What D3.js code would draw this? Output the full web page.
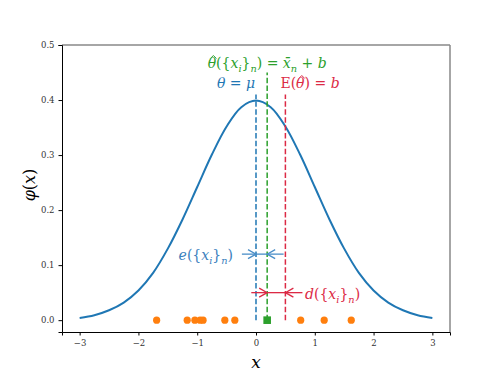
<!DOCTYPE html>
<html>
<head>
<meta charset="utf-8">
<script src="https://cdn.jsdelivr.net/npm/d3@7"></script>
<style>
  body { margin: 0; background: #fff; }
  svg text { font-family: "DejaVu Serif", serif !important; }
</style>
</head>
<body>
<script>
// density curve at steps of 0.25
const curveX = [-3, -2.75, -2.5, -2.25, -2, -1.75, -1.5, -1.25, -1, -0.75, -0.5, -0.25, 0,
  0.25, 0.5, 0.75, 1, 1.25, 1.5, 1.75, 2, 2.25, 2.5, 2.75, 3];
const curveY = [0.004, 0.009, 0.018, 0.032, 0.054, 0.086, 0.130, 0.183, 0.242, 0.301, 0.352, 0.387, 0.399,
  0.387, 0.352, 0.301, 0.242, 0.183, 0.130, 0.086, 0.054, 0.032, 0.018, 0.009, 0.004];

// sample points
const samples = [-1.69, -1.17, -1.04, -0.95, -0.90, -0.53, -0.36, 0.76, 1.16, 1.62];
const estimate = 0.19;   // x̄_n + b
const mu = 0;
const expect = 0.5;      // E(θ̂) = b

const eCol = "#4a8ec8", dCol = "#dc2a45";

const vlines = [
  { x: mu, top: 0.41, color: "#1f77b4" },
  { x: estimate, top: 0.45, color: "#2ca02c" },
  { x: expect, top: 0.41, color: dCol }
];

const xTicks = [-3, -2, -1, 0, 1, 2, 3];
const yTicks = [0.0, 0.1, 0.2, 0.3, 0.4, 0.5];

const margin = { top: 45, right: 50, bottom: 44, left: 62 };
const width = 500 - margin.left - margin.right;
const height = 376 - margin.top - margin.bottom;

const svg = d3.select("body")
  .append("svg")
  .attr("width", 500)
  .attr("height", 376);

const g = svg.append("g")
  .attr("transform", `translate(${margin.left},${margin.top})`);

const x = d3.scaleLinear().domain([-3.3, 3.3]).range([0, width]);
const y = d3.scaleLinear().domain([-0.0215, 0.5]).range([height, 0]);

// top / right frame in grey
g.append("line").attr("x1", 0).attr("x2", width).attr("y1", 0).attr("y2", 0)
  .attr("stroke", "#888").attr("stroke-width", 1.5);
g.append("line").attr("x1", width).attr("x2", width).attr("y1", 0).attr("y2", height)
  .attr("stroke", "#888").attr("stroke-width", 1.5);

// axes
const fmtX = d => d < 0 ? "\u2212" + Math.abs(d) : String(d);
const xAxis = g.append("g")
  .attr("transform", `translate(0,${height})`)
  .call(d3.axisBottom(x).tickValues(xTicks).tickFormat(fmtX).tickSize(3.5).tickPadding(4));
const yAxis = g.append("g")
  .call(d3.axisLeft(y).tickValues(yTicks).tickFormat(d3.format(".1f")).tickSize(3.5).tickPadding(4));
[xAxis, yAxis].forEach(a => {
  a.attr("font-family", null);
  a.selectAll("text").attr("font-size", 8.5).attr("fill", "#333");
  a.select(".domain").attr("stroke", "#000");
  a.selectAll(".tick line").attr("stroke", "#000");
});

// curve
g.append("path")
  .datum(curveX.map((d, i) => [d, curveY[i]]))
  .attr("fill", "none")
  .attr("stroke", "#1f77b4")
  .attr("stroke-width", 2)
  .attr("d", d3.line().x(d => x(d[0])).y(d => y(d[1])).curve(d3.curveCatmullRom));

// dashed verticals
g.selectAll(".vl")
  .data(vlines)
  .enter()
  .append("line")
  .attr("x1", d => x(d.x)).attr("x2", d => x(d.x))
  .attr("y1", y(0)).attr("y2", d => y(d.top))
  .attr("stroke", d => d.color)
  .attr("stroke-width", 1.5)
  .attr("stroke-dasharray", "5.5,2.4");

// arrows
function arrow(x0, x1, yv, color) {
  const px0 = x(x0), px1 = x(x1), py = y(yv);
  const dir = Math.sign(px1 - px0);
  g.append("line").attr("x1", px0).attr("x2", px1).attr("y1", py).attr("y2", py)
    .attr("stroke", color).attr("stroke-width", 1.3);
  g.append("path")
    .attr("d", `M${px1 - dir * 8},${py - 4.5}L${px1},${py}L${px1 - dir * 8},${py + 4.5}`)
    .attr("fill", "none").attr("stroke", color).attr("stroke-width", 1.3);
}
arrow(mu - 0.24, mu, 0.12, eCol);
arrow(estimate + 0.28, estimate, 0.12, eCol);
g.append("line").attr("x1", x(mu)).attr("x2", x(estimate)).attr("y1", y(0.12)).attr("y2", y(0.12))
  .attr("stroke", eCol).attr("stroke-width", 1.3);
arrow(estimate - 0.27, estimate, 0.05, dCol);
arrow(expect + 0.29, expect, 0.05, dCol);
g.append("line").attr("x1", x(estimate)).attr("x2", x(expect)).attr("y1", y(0.05)).attr("y2", y(0.05))
  .attr("stroke", dCol).attr("stroke-width", 1.3);

// samples
g.selectAll(".pt")
  .data(samples)
  .enter()
  .append("circle")
  .attr("cx", d => x(d)).attr("cy", y(0))
  .attr("r", 3.6)
  .attr("fill", "#ff7f0e");
g.append("rect")
  .attr("x", x(estimate) - 3.8).attr("y", y(0) - 3.8)
  .attr("width", 7.6).attr("height", 7.6)
  .attr("fill", "#2ca02c");

// math labels; hats drawn as small strokes above marked glyphs
function mathText(px, py, anchor, color, parts, size) {
  const t = g.append("text").attr("x", px).attr("y", py)
    .attr("text-anchor", anchor).attr("fill", color).attr("font-size", size);
  const hats = [];
  parts.forEach(p => {
    const s = t.append("tspan").text(p.t);
    if (p.i) s.attr("font-style", "italic");
    if (p.sub) s.attr("font-size", size * 0.7).attr("dy", size * 0.25);
    if (p.up) s.attr("dy", -size * 0.25);
    if (p.hat) hats.push(s);
  });
  hats.forEach(s => {
    const b = s.node().getBBox();
    const cx = b.x + b.width / 2 + 1.2, top = b.y + 1.5;
    g.append("path")
      .attr("d", `M${cx - 3},${top + 2}L${cx},${top - 1}L${cx + 3},${top + 2}`)
      .attr("fill", "none").attr("stroke", color).attr("stroke-width", 1);
  });
  return t;
}
const fs = 14;
mathText(x(estimate), 68 - margin.top, "middle", "#2ca02c", [
  { t: "\u03b8", i: true, hat: true }, { t: "({" }, { t: "x", i: true }, { t: "i", i: true, sub: true },
  { t: "}", up: true }, { t: "n", i: true, sub: true }, { t: ") = ", up: true },
  { t: "x\u0304", i: true }, { t: "n", i: true, sub: true }, { t: " + ", up: true }, { t: "b", i: true }
], fs);
mathText(236 - margin.left, 88 - margin.top, "middle", "#1f77b4", [
  { t: "\u03b8", i: true }, { t: " = " }, { t: "\u03bc", i: true }
], fs);
mathText(310 - margin.left, 88 - margin.top, "middle", dCol, [
  { t: "E(" }, { t: "\u03b8", i: true, hat: true }, { t: ") = " }, { t: "b", i: true }
], fs);
mathText(233 - margin.left, 260 - margin.top, "end", "#3a80bd", [
  { t: "e", i: true }, { t: "({" }, { t: "x", i: true }, { t: "i", i: true, sub: true },
  { t: "}", up: true }, { t: "n", i: true, sub: true }, { t: ")", up: true }
], fs);
mathText(305 - margin.left, 299 - margin.top, "start", dCol, [
  { t: "d", i: true }, { t: "({" }, { t: "x", i: true }, { t: "i", i: true, sub: true },
  { t: "}", up: true }, { t: "n", i: true, sub: true }, { t: ")", up: true }
], fs);

// axis titles
svg.append("text")
  .attr("x", 256).attr("y", 368)
  .attr("text-anchor", "middle")
  .attr("font-size", 17).attr("font-style", "italic")
  .text("x");
const yl = svg.append("text")
  .attr("transform", "translate(35,185) rotate(-90)")
  .attr("text-anchor", "middle")
  .attr("font-size", 16);
yl.append("tspan").attr("font-style", "italic").text("\u03c6");
yl.append("tspan").text("(");
yl.append("tspan").attr("font-style", "italic").text("x");
yl.append("tspan").text(")");
</script>
</body>
</html>
